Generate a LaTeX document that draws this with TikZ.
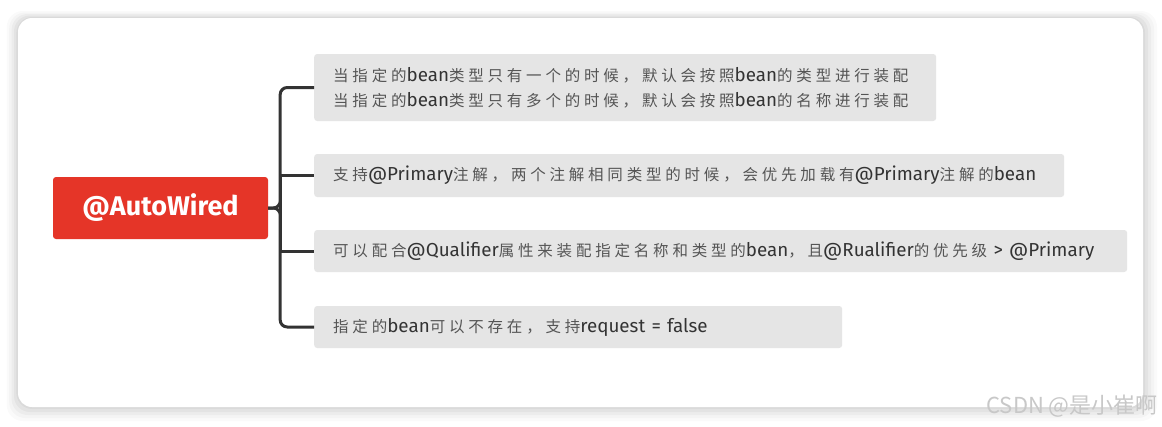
\documentclass[tikz,border=0pt]{standalone}
\usepackage{fontspec}
\setmainfont{Fira Sans}
\newfontfamily\cjkf[LetterSpace=24.5]{Noto Sans CJK SC}
\newfontfamily\wmf{Noto Sans CJK SC}
\definecolor{rootred}{HTML}{E53528}
\definecolor{boxgray}{HTML}{E5E5E5}
\definecolor{conncol}{HTML}{333333}
\definecolor{zhc}{HTML}{555555}
\definecolor{latc}{HTML}{333333}
\definecolor{wmc}{HTML}{C8C8C8}
\newcommand\zh[1]{{\cjkf\fontsize{15.5}{25}\selectfont\color{zhc}#1}}
\tikzset{
  rootbox/.style={fill=rootred, rounded corners=3pt, minimum width=215pt, minimum height=62pt,
    text=white, font=\fontsize{27}{30}\selectfont\bfseries, inner sep=0pt},
  leafbox/.style={fill=boxgray, rounded corners=3pt, anchor=west, align=left, inner xsep=19pt,
    inner ysep=0pt, text=latc, font=\fontsize{18.8}{25}\selectfont},
  conn/.style={draw=conncol, line width=3pt},
}
\begin{document}
\begin{tikzpicture}[x=1pt,y=-1pt]
\useasboundingbox (0,0) rectangle (1162,426);
\fill[white] (0,0) rectangle (1162,426);
% card shadow
\foreach \i/\o in {14/0.02,11/0.025,8/0.03,5/0.035,2/0.04}{
  \fill[black, opacity=\o, rounded corners=16pt] (18-\i*0.8,18-\i*0.5) rectangle (1143+\i,407+\i);
}
\fill[white, rounded corners=14pt] (18,18) rectangle (1143,407);
% nodes
\node[rootbox] (root) at (160.5,208) {@AutoWired};
\node[leafbox, minimum height=67pt, text width=584pt] (b1) at (314,87.5)
  {\zh{当指定的}bean\zh{类型只有一个的时候，默认会按照}bean\zh{的类型进行装配}\\
   \zh{当指定的}bean\zh{类型只有多个的时候，默认会按照}bean\zh{的名称进行装配}};
\node[leafbox, minimum height=43pt, text width=712pt] (b2) at (314,175.5)
  {\zh{支持}@Primary\zh{注解，两个注解相同类型的时候，会优先加载有}@Primary\zh{注解的}bean};
\node[leafbox, minimum height=42pt, text width=775pt] (b3) at (314,251)
  {\zh{可以配合}@Qualifier\zh{属性来装配指定名称和类型的}bean\zh{，且}@Rualifier\zh{的优先级} > @Primary};
\node[leafbox, minimum height=42pt, text width=490pt] (b4) at (314,327)
  {\zh{指定的}bean\zh{可以不存在，支持}request = false};
% connectors
\coordinate (trunk) at ([xshift=12pt]root.east);
\draw[conn, rounded corners=7pt] (root.east) -- (trunk) |- (b1.west);
\draw[conn, rounded corners=7pt] (root.east) -- (trunk) |- (b4.west);
\draw[conn] (trunk) |- (b2.west);
\draw[conn] (trunk) |- (b3.west);
% watermark
\node[anchor=east, text=wmc, font=\wmf\fontsize{22}{24}\selectfont, inner sep=0pt] (wm) at (1158,406) {CSDN @是小崔啊};
\end{tikzpicture}
\end{document}
